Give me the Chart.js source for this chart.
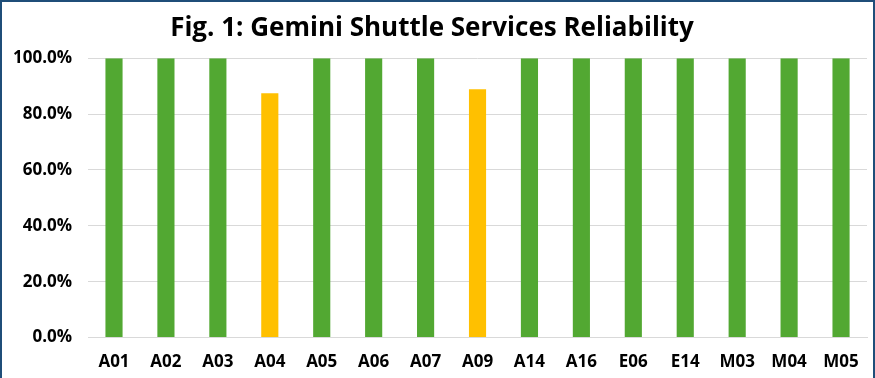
<!DOCTYPE html>
<html>
<head>
<meta charset="utf-8">
<script src="https://cdn.jsdelivr.net/npm/chart.js@4/dist/chart.umd.min.js"></script>
<style>
  html, body { margin: 0; padding: 0; background: #fff; }
  #wrap {
    width: 871px; height: 376px;
    border: 2px solid #1F4E79; border-bottom: 0;
    position: relative; background: #fff;
  }
</style>
</head>
<body>
<div id="wrap"><canvas id="chart"></canvas></div>
<script>
// Shuttle reliability data
const routes = ['A01', 'A02', 'A03', 'A04', 'A05', 'A06', 'A07', 'A09', 'A14', 'A16', 'E06', 'E14', 'M03', 'M04', 'M05'];
const reliability = [1, 1, 1, 0.875, 1, 1, 1, 0.889, 1, 1, 1, 1, 1, 1, 1];

const GREEN = '#52A832';
const YELLOW = '#FFC000';

// bars below 100% are shown in yellow
const barColors = reliability.map(v => v < 1 ? YELLOW : GREEN);

const ctx = document.getElementById('chart').getContext('2d');
new Chart(ctx, {
    type: 'bar',
    data: {
        labels: routes,
        datasets: [{
            data: reliability,
            backgroundColor: barColors,
            barPercentage: 0.66,
            categoryPercentage: 0.5
        }]
    },
    options: {
        responsive: true,
        maintainAspectRatio: false,
        animation: false,
        layout: { padding: { left: -5, right: 6, top: 0, bottom: 0 } },
        plugins: {
            legend: { display: false },
            tooltip: { enabled: false },
            title: {
                display: true,
                text: 'Fig. 1: Gemini Shuttle Services Reliability',
                color: '#000',
                font: { family: 'Open Sans', size: 26, weight: 'bold' },
                padding: { top: 11, bottom: 14 }
            }
        },
        scales: {
            x: {
                grid: { display: false },
                border: { display: true, color: '#d9d9d9' },
                ticks: {
                    color: '#000',
                    font: { family: 'Open Sans', size: 17, weight: 'bold' },
                    padding: 6
                }
            },
            y: {
                min: 0,
                max: 1,
                grid: { color: '#d9d9d9', drawTicks: false },
                border: { display: false },
                ticks: {
                    stepSize: 0.2,
                    color: '#000',
                    padding: 16,
                    font: { family: 'Open Sans', size: 17, weight: 'bold' },
                    callback: function(value) {
                        return (value * 100).toFixed(1) + '%';
                    }
                }
            }
        }
    }
});
</script>
</body>
</html>
